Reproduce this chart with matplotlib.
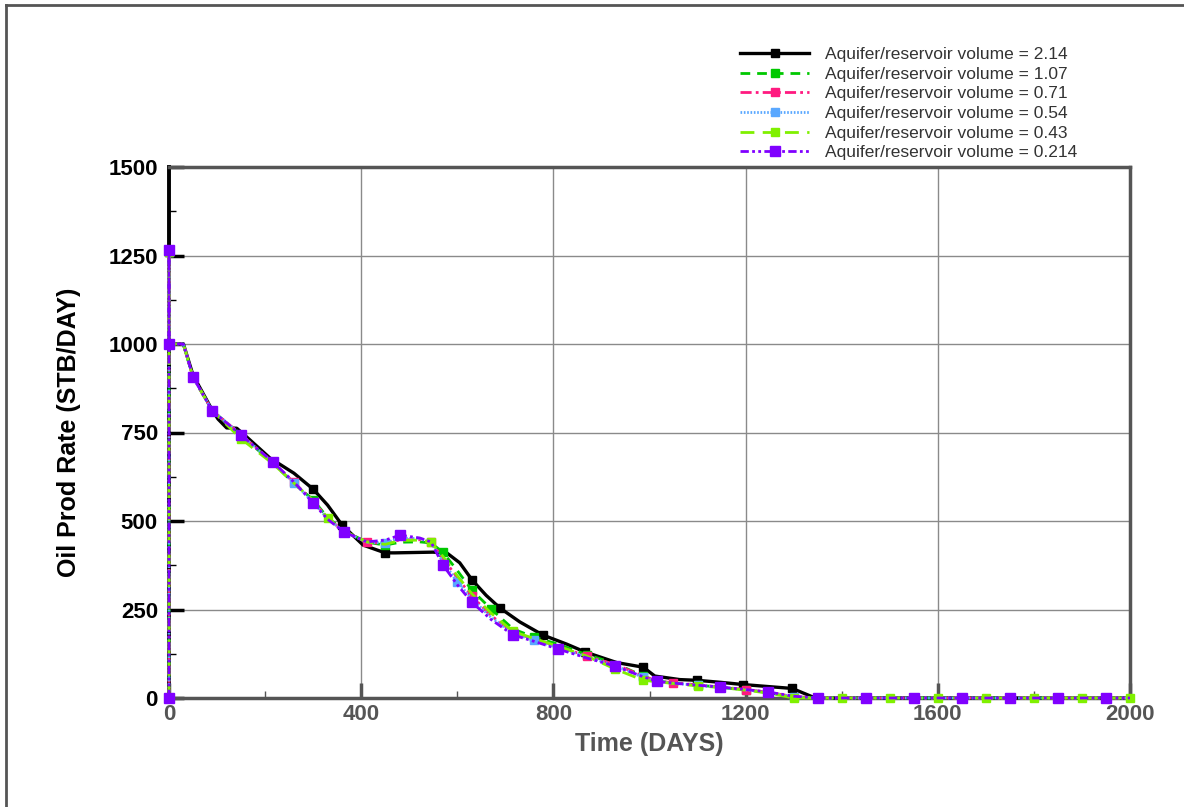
import matplotlib
matplotlib.use("Agg")
import matplotlib.pyplot as plt
from matplotlib.lines import Line2D

plt.rcParams['font.family'] = ['Liberation Sans', 'DejaVu Sans']

# time grid shared by the five smaller-aquifer runs (days)
t_runs = [0, 0, 0, 30, 50, 90, 150, 216, 260, 300, 330, 364, 412, 450, 481, 522,
          545, 570, 600, 630, 670, 716, 760, 810, 870, 928, 987, 1015, 1049, 1100,
          1147, 1200, 1247, 1300, 1350, 1400, 1450, 1500, 1550, 1600, 1650, 1700,
          1750, 1800, 1850, 1900, 1950, 2000]
zeros13 = [0] * 13

q_107 = [0, 1260, 1000, 1000, 905, 812, 742, 664, 606, 560, 510, 473, 440, 432, 440, 441,
         438, 412, 360, 305, 252, 195, 172, 152, 122, 98, 62, 48, 43, 37,
         30, 23, 15, 3, 0] + zeros13
q_071 = [0, 1260, 1000, 1000, 906, 812, 744, 666, 609, 556, 508, 471, 440, 436, 447, 447,
         440, 395, 340, 288, 233, 186, 166, 146, 118, 95, 62, 48, 43, 37,
         31, 24, 16, 4, 0] + zeros13
q_054 = [0, 1260, 1000, 1000, 906, 812, 744, 665, 608, 553, 507, 470, 440, 438, 452, 450,
         440, 385, 328, 280, 228, 182, 163, 142, 116, 92, 58, 47, 42, 36,
         30, 23, 16, 3, 0] + zeros13
q_043 = [0, 1260, 1000, 1000, 906, 812, 732, 662, 607, 558, 509, 472, 441, 434, 445, 446,
         440, 400, 345, 295, 240, 188, 168, 146, 118, 82, 50, 46, 41, 34,
         30, 22, 14, 0, 0] + zeros13
q_0214 = [0, 1265, 1000, 1000, 907, 811, 743, 667, 610, 551, 505, 469, 441, 446, 460, 452,
          441, 376, 320, 271, 222, 178, 160, 138, 113, 90, 60, 47, 42, 36,
          31, 24, 17, 5, 0] + zeros13

# largest aquifer run
t_214 = [0, 0, 0, 30, 50, 90, 102, 120, 141, 162, 210, 260, 300, 330, 360, 404, 433,
         450, 470, 510, 549, 578, 605, 631, 660, 689, 730, 778, 828, 866, 932, 987,
         1011, 1063, 1099, 1150, 1195, 1250, 1297, 1345, 2000]
q_214 = [0, 1260, 1000, 1000, 912, 813, 788, 763, 762, 737, 678, 635, 590, 545, 489, 432,
         418, 410, 410, 411, 412, 410, 382, 333, 290, 254, 215, 178, 152, 130, 100, 87,
         62, 52, 50, 44, 38, 32, 27, 0, 0]

labels = ["Aquifer/reservoir volume = 2.14",
          "Aquifer/reservoir volume = 1.07",
          "Aquifer/reservoir volume = 0.71",
          "Aquifer/reservoir volume = 0.54",
          "Aquifer/reservoir volume = 0.43",
          "Aquifer/reservoir volume = 0.214"]

series = [
    (t_214, q_214, '#000000', '-', 2.4, 6, [0, 12, 14, 17, 23, 25, 27, 29, 31, 34, 36, 38]),
    (t_runs, q_107, '#00c800', (0, (3.5, 2.5)), 2.0, 6, [0, 1, 2, 6, 9, 13, 17, 19, 20, 22, 24, 26, 29, 31]),
    (t_runs, q_071, '#ff1a80', (0, (4, 1.5, 1, 1.5)), 2.0, 6, [0, 1, 2, 5, 8, 12, 16, 19, 21, 24, 28, 31]),
    (t_runs, q_054, '#5aa8ff', (0, (0.6, 0.6)), 2.0, 6, [0, 1, 2, 5, 8, 13, 18, 22, 26, 29, 33]),
    (t_runs, q_043, '#80f000', (0, (5, 3)), 2.0, 6, [0, 1, 2, 6, 10, 16, 21, 25, 26, 29, 33, 35, 37, 39, 41, 43, 45, 47]),
    (t_runs, q_0214, '#8000ff', (0, (3, 1.2, 1, 1.2, 1, 1.2)), 2.0, 7,
     [0, 1, 2, 4, 5, 6, 7, 9, 11, 14, 17, 19, 21, 23, 25, 27, 30, 32, 34, 36, 38, 40, 42, 44, 46]),
]

fig = plt.figure(figsize=(11.84, 8.07), dpi=100)
ax = fig.add_axes([169 / 1184, 1 - 698 / 807, 961 / 1184, 531 / 807])

handles = []
for (t, q, c, ls, lw, ms, mk), lab in zip(series, labels):
    ax.plot(t, q, color=c, ls=ls, lw=lw, marker='s', ms=ms, markevery=mk,
            mec=c, mfc=c, clip_on=False, zorder=3)
    handles.append(Line2D([], [], color=c, ls=ls, lw=lw, marker='s', ms=ms,
                          mec=c, mfc=c, label=lab))

ax.set_xlim(0, 2000)
ax.set_ylim(0, 1500)
ax.set_xticks([0, 400, 800, 1200, 1600, 2000])
ax.set_xticks([200, 600, 1000, 1400, 1800], minor=True)
ax.set_yticks([0, 250, 500, 750, 1000, 1250, 1500])
ax.set_yticks([125, 375, 625, 875, 1125, 1375], minor=True)
ax.grid(True, which='major', color='#8a8a8a', lw=1.0)

ax.tick_params(axis='y', which='major', direction='in', length=11, width=2.5,
               color='black', pad=8, labelsize=16, labelcolor='black')
ax.tick_params(axis='y', which='minor', direction='in', length=5, width=1, color='black')
ax.tick_params(axis='x', which='major', direction='in', length=11, width=2.5,
               color='#555555', pad=4, labelsize=16, labelcolor='#555555')
ax.tick_params(axis='x', which='minor', direction='in', length=5, width=1, color='#555555')
for lab in ax.get_xticklabels() + ax.get_yticklabels():
    lab.set_fontweight('bold')

for side in ['top', 'right', 'bottom']:
    ax.spines[side].set_color('#555555')
    ax.spines[side].set_linewidth(2.5)
ax.spines['left'].set_color('black')
ax.spines['left'].set_linewidth(2.8)

ax.set_xlabel("Time (DAYS)", fontsize=18, fontweight='bold', color='#555555', labelpad=5)
ax.set_ylabel("Oil Prod Rate (STB/DAY)", fontsize=18, fontweight='bold', color='black', labelpad=20)

fig.legend(handles=handles, loc='upper left', bbox_to_anchor=(740 / 1184, 1 - 47 / 807),
           frameon=False, fontsize=12.5, handlelength=4.0, handletextpad=0.9,
           labelspacing=0.26, borderpad=0, borderaxespad=0, numpoints=1,
           labelcolor='#333333')

# outer frame (top and left edges)
fig.add_artist(Line2D([6 / 1184, 1], [1 - 5 / 807, 1 - 5 / 807], color='#555555', lw=2))
fig.add_artist(Line2D([6 / 1184, 6 / 1184], [0, 1 - 5 / 807], color='#555555', lw=2))

fig.savefig("out.png", dpi=100)
